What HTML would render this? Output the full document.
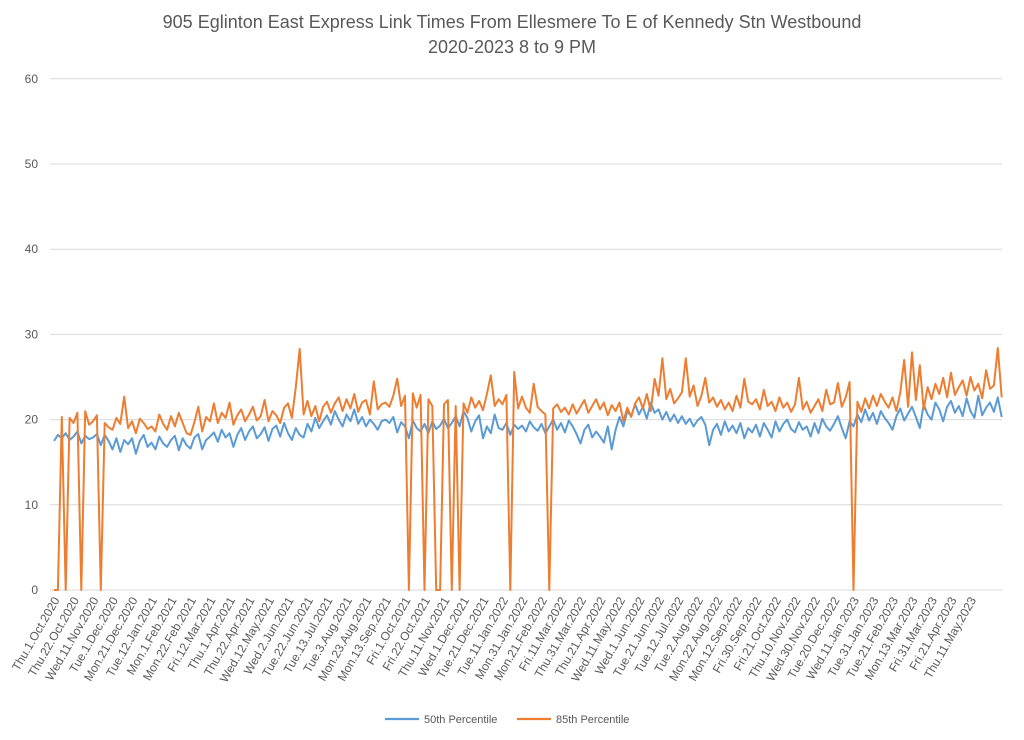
<!DOCTYPE html>
<html><head><meta charset="utf-8">
<style>
html,body{margin:0;padding:0;background:#fff;}
svg{display:block;font-family:"Liberation Sans",sans-serif;}
</style></head>
<body>
<svg id="chart" width="1024" height="740">
  <text x="512" y="28" text-anchor="middle" font-size="18" fill="#595959">905 Eglinton East Express Link Times From Ellesmere To E of Kennedy Stn Westbound</text>
  <text x="512" y="53" text-anchor="middle" font-size="18" fill="#595959">2020-2023 8 to 9 PM</text>
  <g id="grid"></g>
  <g id="yticks"></g>
  <g id="xticks"></g>
  <g id="series"></g>
  <g>
    <g>
      <line x1="385" y1="719" x2="419" y2="719" stroke="#5B9BD5" stroke-width="2.2"/>
      <text x="424" y="723" font-size="11" fill="#595959">50th Percentile</text>
    </g>
    <g>
      <line x1="517" y1="719" x2="551" y2="719" stroke="#ED7D31" stroke-width="2.2"/>
      <text x="556" y="723" font-size="11" fill="#595959">85th Percentile</text>
    </g>
  </g>
</svg>
<script>
const yTicks=[0,10,20,30,40,50,60];
const xLabels=["Thu.1.Oct.2020","Thu.22.Oct.2020","Wed.11.Nov.2020","Tue.1.Dec.2020","Mon.21.Dec.2020","Tue.12.Jan.2021","Mon.1.Feb.2021","Mon.22.Feb.2021","Fri.12.Mar.2021","Thu.1.Apr.2021","Thu.22.Apr.2021","Wed.12.May.2021","Wed.2.Jun.2021","Tue.22.Jun.2021","Tue.13.Jul.2021","Tue.3.Aug.2021","Mon.23.Aug.2021","Mon.13.Sep.2021","Fri.1.Oct.2021","Fri.22.Oct.2021","Thu.11.Nov.2021","Wed.1.Dec.2021","Tue.21.Dec.2021","Tue.11.Jan.2022","Mon.31.Jan.2022","Mon.21.Feb.2022","Fri.11.Mar.2022","Thu.31.Mar.2022","Thu.21.Apr.2022","Wed.11.May.2022","Wed.1.Jun.2022","Tue.21.Jun.2022","Tue.12.Jul.2022","Tue.2.Aug.2022","Mon.22.Aug.2022","Mon.12.Sep.2022","Fri.30.Sep.2022","Fri.21.Oct.2022","Thu.10.Nov.2022","Wed.30.Nov.2022","Tue.20.Dec.2022","Wed.11.Jan.2023","Tue.31.Jan.2023","Tue.21.Feb.2023","Mon.13.Mar.2023","Fri.31.Mar.2023","Fri.21.Apr.2023","Thu.11.May.2023"];
const p50=[17.5,18.2,17.8,18.4,17.6,18.0,18.6,17.2,18.1,17.7,17.9,18.3,17.0,18.2,17.5,16.5,17.8,16.2,17.6,17.1,17.8,16.0,17.5,18.2,16.8,17.3,16.5,18.0,17.2,16.8,17.6,18.1,16.4,17.8,17.0,16.6,17.9,18.3,16.5,17.6,18.0,18.5,17.4,18.8,17.9,18.4,16.8,18.2,19.0,17.6,18.6,19.2,17.8,18.3,19.1,17.5,18.9,19.3,18.0,19.6,18.4,17.6,19.0,18.2,17.9,19.5,18.6,20.2,19.0,19.8,20.5,19.4,21.0,20.0,19.2,20.6,19.8,21.2,19.5,20.3,19.2,20.0,19.5,18.8,19.8,20.0,19.6,20.3,18.5,19.7,19.2,17.8,19.9,19.0,18.6,19.5,18.4,19.8,18.9,19.3,20.1,19.0,19.6,20.4,19.2,21.0,20.2,18.6,19.8,20.5,17.8,19.2,18.4,20.6,19.0,18.8,19.6,18.2,19.4,18.9,19.3,18.6,19.8,19.1,18.7,19.5,18.4,19.2,20.0,18.8,19.6,18.5,19.9,19.2,18.3,17.2,18.8,19.4,17.9,18.6,18.0,17.3,19.2,16.5,18.8,20.3,19.2,21.0,20.4,21.8,20.6,21.5,20.1,22.0,20.8,21.2,20.0,20.9,19.8,20.6,19.6,20.4,19.5,20.1,19.2,19.9,20.3,19.4,17.0,18.8,19.5,18.2,19.8,18.6,19.3,18.4,19.6,17.8,19.0,18.5,19.4,18.0,19.6,18.8,17.9,19.8,18.6,19.5,20.0,18.9,18.5,19.7,18.8,19.2,18.0,19.6,18.4,20.1,19.2,18.7,19.5,20.4,19.0,17.8,19.8,19.2,20.6,19.7,21.2,19.9,20.8,19.5,21.0,20.2,19.6,18.8,20.4,21.3,19.9,20.7,21.5,20.3,19.0,21.8,20.6,20.0,22.0,21.2,19.8,21.5,22.2,20.8,21.6,20.4,22.5,21.0,20.2,22.8,20.5,21.4,22.0,20.9,22.6,20.3];
const p85=[0,0,20.3,0,20.2,19.6,20.8,0,21.0,19.4,19.8,20.5,0,19.6,19.1,18.8,20.2,19.5,22.7,19.0,19.8,18.4,20.1,19.6,18.9,19.2,18.6,20.6,19.5,18.8,20.4,19.2,20.8,19.6,18.4,18.2,19.7,21.5,18.6,20.3,19.8,21.9,19.6,20.8,20.2,22.0,19.4,20.5,21.2,19.8,20.6,21.5,19.9,20.4,22.3,19.8,21.0,20.5,19.6,21.4,21.9,20.2,23.8,28.3,20.6,22.2,20.4,21.6,19.8,21.5,22.1,20.8,21.9,22.6,21.0,22.4,21.3,23.0,20.9,22.0,22.3,20.6,24.5,21.2,21.8,22.0,21.5,22.8,24.8,21.6,22.8,0,23.1,21.4,22.9,0,22.4,21.6,0,0,21.8,22.3,0,21.6,0,21.9,20.8,22.6,21.4,22.2,21.1,23.0,25.2,21.6,22.4,21.8,22.9,0,25.6,21.3,22.7,21.4,20.8,24.2,21.5,21.0,20.6,0,21.3,21.8,20.9,21.4,20.6,21.8,20.7,21.5,22.3,20.8,21.6,22.4,21.2,22.0,20.5,21.7,21.0,22.0,19.8,21.4,20.3,21.9,22.6,21.3,23.0,21.0,24.8,22.8,27.2,22.4,23.6,21.9,22.5,23.2,27.2,22.7,24.0,21.6,22.8,24.9,22.0,22.6,21.5,22.3,21.2,22.0,21.0,22.8,21.4,24.8,22.1,21.8,22.4,21.2,23.5,21.6,22.1,21.0,22.6,21.4,22.0,20.9,21.8,24.9,21.2,22.1,20.8,21.6,22.4,21.0,23.5,21.8,22.0,24.3,21.5,22.6,24.4,0,22.1,20.9,22.5,21.3,22.8,21.6,23.0,22.1,21.4,22.6,21.0,23.2,27.0,21.5,27.9,22.3,26.4,21.2,23.8,22.4,24.2,23.0,24.9,22.6,25.5,22.9,23.8,24.6,22.8,25.0,23.4,24.2,22.5,25.8,23.6,24.0,28.4,22.6];

const NS="http://www.w3.org/2000/svg";
const X0=54, DX=3.9, Y0=590, YS=8.52;
const LABEL_STEP=5;
function xs(i){return X0+i*DX;}
function ys(v){return Y0-v*YS;}
function mk(tag,attrs,parent){const e=document.createElementNS(NS,tag);for(const k in attrs)e.setAttribute(k,attrs[k]);parent.appendChild(e);return e;}

const grid=document.getElementById('grid'), yt=document.getElementById('yticks'), xt=document.getElementById('xticks'), ser=document.getElementById('series');
yTicks.forEach(v=>{
  const l=mk('line',{x1:50,x2:1002,y1:ys(v),y2:ys(v),stroke:'#d9d9d9','stroke-width':1},grid);
  
  
  const t=mk('text',{x:38,y:ys(v)+4,'text-anchor':'end','font-size':12,fill:'#595959'},yt);
  t.textContent=v;
  
  
});
xLabels.forEach((s,k)=>{
  const x=xs(k*LABEL_STEP)+6, y=600;
  const t=mk('text',{x:x,y:y,'text-anchor':'end','font-size':12,fill:'#595959',transform:'rotate(-60 '+x+' '+y+')'},xt);
  t.textContent=s;
  
  
});
function line(arr,color,name){
  const d=arr.map((v,i)=>(i?'L':'M')+xs(i).toFixed(1)+' '+ys(v).toFixed(1)).join(' ');
  const p=mk('path',{d:d,fill:'none',stroke:color,'stroke-width':2,'stroke-linejoin':'round'},ser);
  
  
}
line(p50,'#5B9BD5','series-50th-percentile');
line(p85,'#ED7D31','series-85th-percentile');
</script>
</body></html>
